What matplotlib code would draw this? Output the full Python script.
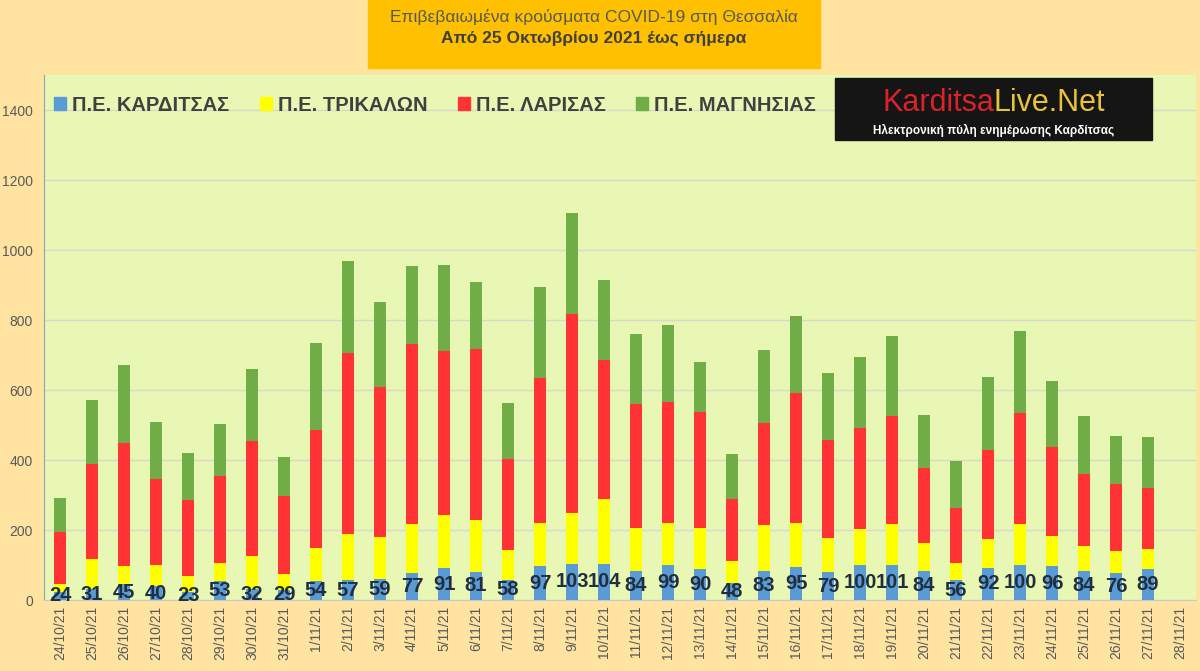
import matplotlib
matplotlib.use("Agg")
from matplotlib import pyplot as plt, patches

dates = ["24/10/21", "25/10/21", "26/10/21", "27/10/21", "28/10/21", "29/10/21",
         "30/10/21", "31/10/21", "1/11/21", "2/11/21", "3/11/21", "4/11/21",
         "5/11/21", "6/11/21", "7/11/21", "8/11/21", "9/11/21", "10/11/21",
         "11/11/21", "12/11/21", "13/11/21", "14/11/21", "15/11/21", "16/11/21",
         "17/11/21", "18/11/21", "19/11/21", "20/11/21", "21/11/21", "22/11/21",
         "23/11/21", "24/11/21", "25/11/21", "26/11/21", "27/11/21", "28/11/21"]

karditsa = [24, 31, 45, 40, 23, 53, 32, 29, 54, 57, 59, 77, 91, 81, 58, 97, 103, 104,
            84, 99, 90, 48, 83, 95, 79, 100, 101, 84, 56, 92, 100, 96, 84, 76, 89, 0]
trikala = [22, 87, 53, 60, 47, 54, 95, 45, 94, 132, 121, 139, 152, 148, 84, 124, 145, 186,
           123, 122, 117, 64, 130, 124, 98, 104, 117, 79, 51, 82, 116, 88, 70, 63, 57, 0]
larisa = [147, 272, 351, 246, 216, 246, 327, 223, 339, 517, 428, 515, 468, 488, 262, 413, 569, 396,
          354, 345, 330, 178, 292, 373, 280, 288, 308, 214, 156, 254, 318, 253, 207, 192, 174, 0]
magnisia = [99, 181, 222, 164, 135, 151, 206, 113, 247, 263, 243, 223, 246, 192, 159, 260, 289, 228,
            199, 220, 143, 126, 209, 219, 192, 202, 228, 153, 135, 209, 235, 190, 164, 138, 146, 0]

names = ["Π.Ε. ΚΑΡΔΙΤΣΑΣ", "Π.Ε. ΤΡΙΚΑΛΩΝ", "Π.Ε. ΛΑΡΙΣΑΣ", "Π.Ε. ΜΑΓΝΗΣΙΑΣ"]
colors = ["#5B9BD5", "#FFFF00", "#FF3333", "#70AD47"]

plt.rcParams["font.family"] = ["Liberation Sans", "DejaVu Sans"]

fig = plt.figure(figsize=(12, 6.71), dpi=100)
fig.patch.set_facecolor("#FFE4A1")
ax = fig.add_axes([0.0367, 0.1058, 0.96, 0.7824])
ax.set_facecolor("#E9F7B4")

x = list(range(len(dates)))
w = 0.4
bottom = [0] * len(dates)
bars = []
for vals, col in zip([karditsa, trikala, larisa, magnisia], colors):
    b = ax.bar(x, vals, w, bottom=bottom, color=col, zorder=3)
    bars.append(b)
    bottom = [a + v for a, v in zip(bottom, vals)]

labels = [str(v) if v else "" for v in karditsa]
ax.bar_label(bars[0], labels=labels, label_type="center", fontsize=14.5,
             fontweight="bold", color="#1F2F3F", zorder=5)

ax.set_xlim(-0.5, len(dates) - 0.5)
ax.set_ylim(0, 1500)
ax.set_yticks(range(0, 1401, 200))
ax.set_xticks(x)
ax.set_xticklabels(dates, rotation=90, fontsize=10, color="#595959")
ax.tick_params(axis="y", labelsize=10, labelcolor="#595959", length=0, pad=8)
ax.tick_params(axis="x", length=0, pad=4)
ax.grid(axis="y", color="#D8D8CC", linewidth=1, zorder=0)
for s in ["top", "right"]:
    ax.spines[s].set_visible(False)
ax.spines["left"].set_color("#8EA3B8")
ax.spines["bottom"].set_color("#C8C8C8")

handles = [patches.Patch(color=c) for c in colors]
leg = ax.legend(handles, names, loc="upper left", bbox_to_anchor=(-0.007, 0.995),
                ncol=4, frameon=False, handlelength=0.6, handleheight=0.6,
                handletextpad=0.3, columnspacing=1.5,
                prop={"family": "Liberation Sans", "size": 14.5, "weight": "bold"})
for t in leg.get_texts():
    t.set_color("#404040")

# title box
fig.patches.append(patches.Rectangle((368 / 1200, 1 - 68 / 671), 452 / 1200, 68 / 671,
                                     transform=fig.transFigure, color="#FFC000", zorder=0))
fig.text(594 / 1200, 1 - 17 / 671, "Επιβεβαιωμένα κρούσματα COVID-19 στη Θεσσαλία",
         ha="center", va="center", fontsize=12.5, color="#595959")
fig.text(594 / 1200, 1 - 38 / 671, "Από 25 Οκτωβρίου 2021 έως σήμερα",
         ha="center", va="center", fontsize=12.5, color="#404040", fontweight="bold")

# logo
fig.patches.append(patches.Rectangle((835 / 1200, 1 - 140 / 671), 317 / 1200, 62 / 671,
                                     transform=fig.transFigure, color="#151515", zorder=4))
fig.text(994 / 1200, 1 - 103 / 671, "Karditsa", ha="right", va="center",
         fontsize=22, color="#D8232A", zorder=5)
fig.text(994 / 1200, 1 - 103 / 671, "Live.Net", ha="left", va="center",
         fontsize=22, color="#E8C33A", zorder=5)
fig.text(994 / 1200, 1 - 130 / 671, "Ηλεκτρονική πύλη ενημέρωσης Καρδίτσας",
         ha="center", va="center", fontsize=8.5, color="white", fontweight="bold", zorder=5)

fig.savefig("out.png", dpi=100, facecolor=fig.get_facecolor())
